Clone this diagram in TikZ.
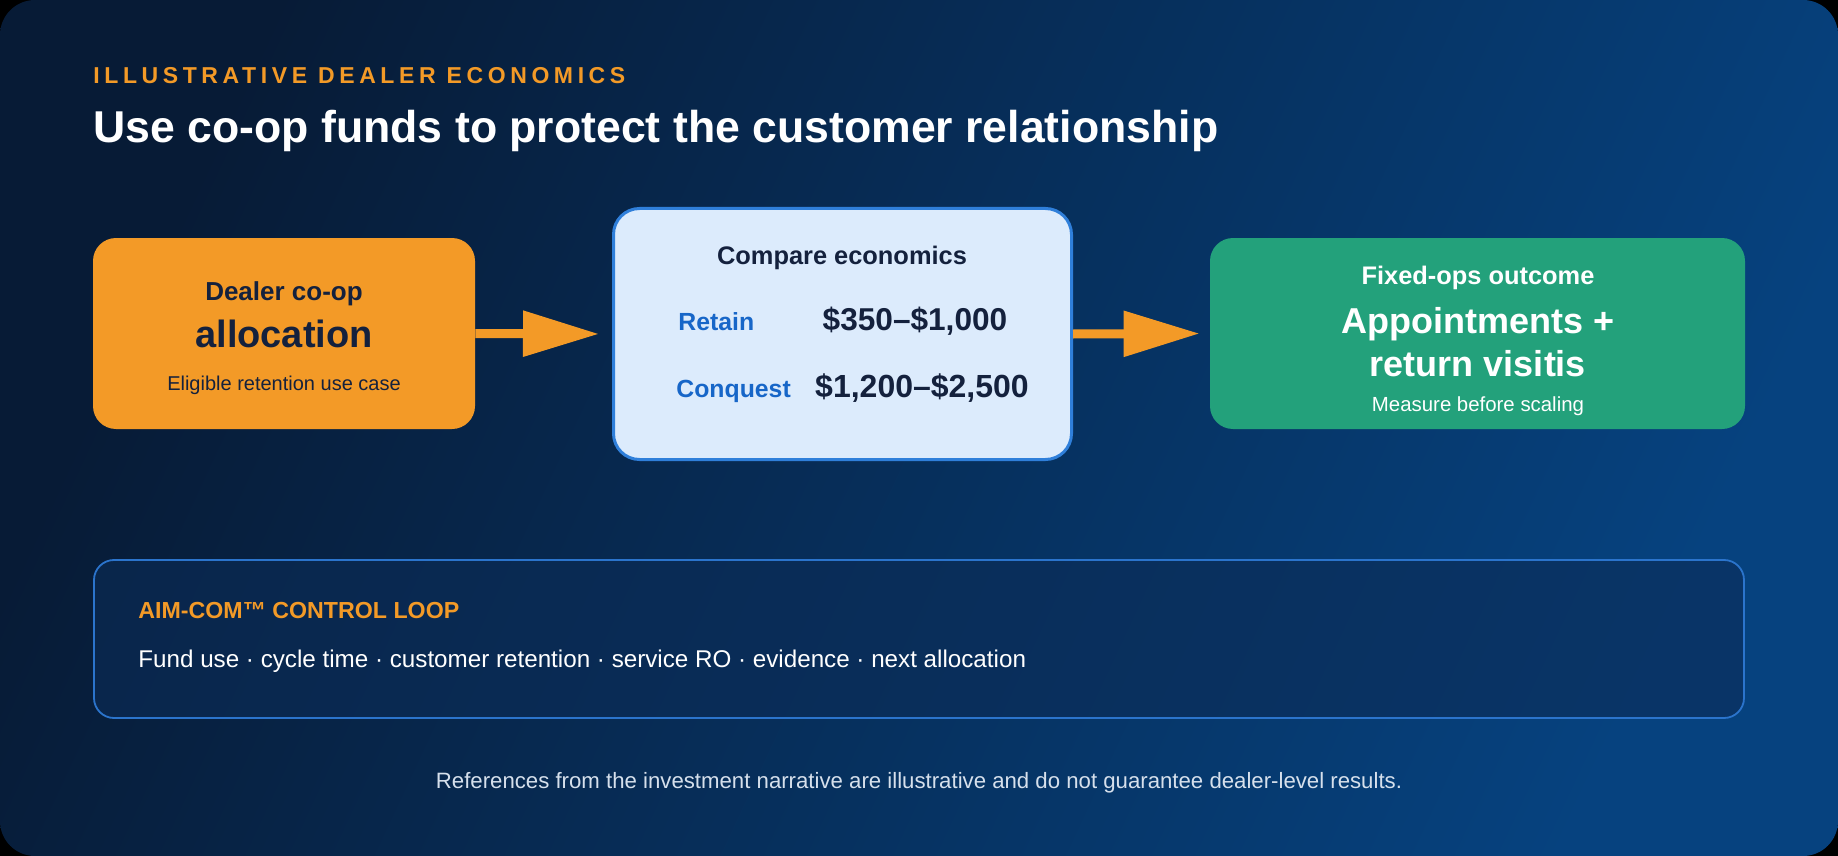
\documentclass[tikz,border=0pt]{standalone}
\usepackage{fontspec}
\setmainfont{Liberation Sans}
\usetikzlibrary{arrows.meta}

\definecolor{bgA}{HTML}{071B36}
\definecolor{bgB}{HTML}{06427F}
\definecolor{coop}{HTML}{F39A27}
\definecolor{ink}{HTML}{14213D}
\definecolor{cmpFill}{HTML}{DCEBFC}
\definecolor{cmpLine}{HTML}{2F7FDA}
\definecolor{cmpLbl}{HTML}{1766C8}
\definecolor{fixed}{HTML}{23A17B}
\definecolor{panelLine}{HTML}{2B74CC}
\definecolor{panelFill}{HTML}{0B2C57}
\definecolor{note}{HTML}{D6E0EC}

\newcommand{\fsz}[1]{\fontsize{#1}{#1}\selectfont}

\begin{document}
\begin{tikzpicture}[x=0.5pt,y=-0.5pt,
  card/.style={rounded corners=11.5pt,inner sep=0pt,minimum width=#1,minimum height=95.5pt},
  txt/.style={anchor=base,inner sep=0pt},
  flow/.style={-{Triangle[length=38pt,width=22pt]},line width=4.5pt,draw=coop}]
\useasboundingbox (0,0) rectangle (1838,856);
% fons
\fill[black] (0,0) rectangle (1838,856);
\shade[rounded corners=17.5pt,left color=bgA,right color=bgB,shading angle=65] (0,0) rectangle (1838,856);
% capçalera
\node[txt,anchor=base west,text=coop,font=\fsz{11.5}\bfseries\addfontfeature{LetterSpace=20}] (kick) at (93,84) {ILLUSTRATIVE DEALER ECONOMICS};
\node[txt,anchor=base west,text=white,font=\fsz{22.3}\bfseries] (title) at (93,143) {Use co-op funds to protect the customer relationship};
% caixes
\node[card=191pt,fill=coop] (alloc) at (284,333.5) {};
\node[card=229pt,minimum height=125.5pt,rounded corners=13pt,fill=cmpFill,draw=cmpLine,line width=1.5pt] (cmp) at (842.5,334) {};
\node[card=267.5pt,fill=fixed] (outc) at (1477.5,333.5) {};
% textos de la primera caixa
\node[txt,text=ink,font=\fsz{13}\bfseries] (allocA) at (284,300) {Dealer co-op};
\node[txt,text=ink,font=\fsz{19}\bfseries] (allocB) at (284,347) {allocation};
\node[txt,text=ink,font=\fsz{10}] (allocC) at (284,390) {Eligible retention use case};
% comparació
\node[txt,text=ink,font=\fsz{12.7}\bfseries] (cmpT) at (842,264) {Compare economics};
\node[txt,anchor=base west,text=cmpLbl,font=\fsz{12.4}\bfseries] (ret) at (678,330.5) {Retain};
\node[txt,text=ink,font=\fsz{15.8}\bfseries] (retV) at (915,330.5) {\$350–\$1,000};
\node[txt,anchor=base west,text=cmpLbl,font=\fsz{12.4}\bfseries] (conq) at (676,397) {Conquest};
\node[txt,text=ink,font=\fsz{16}\bfseries] (conqV) at (922,397) {\$1,200–\$2,500};
% resultat
\node[txt,text=white,font=\fsz{12.7}\bfseries] (outA) at (1478,285) {Fixed-ops outcome};
\node[txt,text=white,font=\fsz{18}\bfseries] (outB) at (1478,333) {Appointments +};
\node[txt,text=white,font=\fsz{18}\bfseries] (outC) at (1478,376) {return visitis};
\node[txt,text=white,font=\fsz{10.2}] (outD) at (1478,411) {Measure before scaling};
% fletxes
\draw[flow,shorten >=6.5pt] (alloc.east) -- (cmp.west);
\draw[flow,shorten >=5pt] (cmp.east) -- (outc.west);
% bucle de control
\node[rounded corners=10pt,inner sep=0pt,minimum width=825pt,minimum height=79pt,fill=panelFill,fill opacity=0.6,draw=panelLine,line width=0.9pt] (loop) at (919,639) {};
\node[txt,anchor=base west,text=coop,font=\fsz{11.6}\bfseries] (loopT) at (138,618) {AIM-COM™ CONTROL LOOP};
\node[txt,anchor=base west,text=white,font=\fsz{12.1}] (loopL) at (138,667) {Fund use · cycle time · customer retention · service RO · evidence · next allocation};
% nota
\node[txt,text=note,font=\fsz{11.1}] (note) at (919,788) {References from the investment narrative are illustrative and do not guarantee dealer-level results.};
\end{tikzpicture}
\end{document}
